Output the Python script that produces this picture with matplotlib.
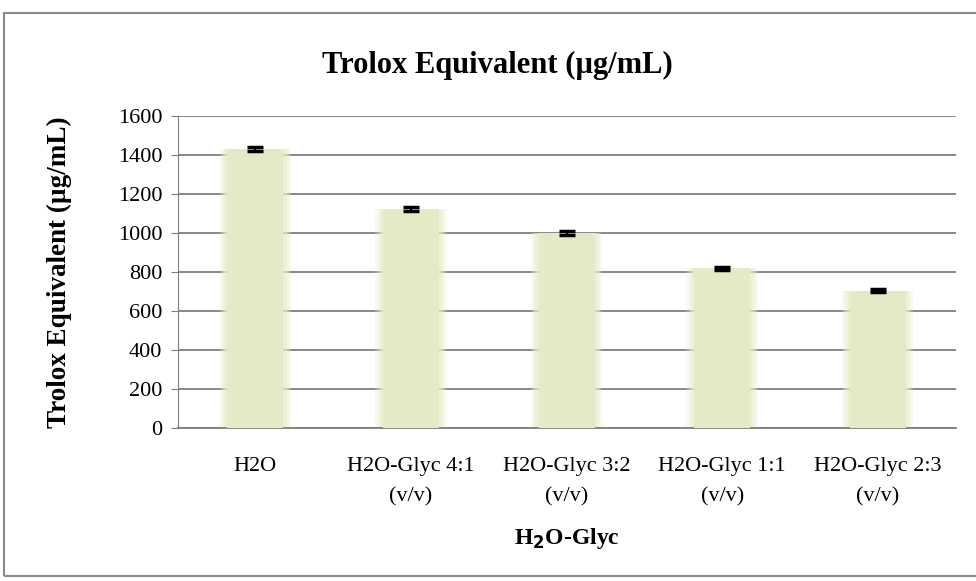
import matplotlib
matplotlib.use('Agg')
import matplotlib.pyplot as plt
import numpy as np
from matplotlib.patches import Rectangle

categories = ['H2O', 'H2O-Glyc 4:1\n(v/v)', 'H2O-Glyc 3:2\n(v/v)',
              'H2O-Glyc 1:1\n(v/v)', 'H2O-Glyc 2:3\n(v/v)']
values = [1430, 1122, 1002, 820, 706]
errors = [10, 10, 9, 9, 9]
yticks = [0, 200, 400, 600, 800, 1000, 1200, 1400, 1600]

plt.rcParams['font.family'] = 'Liberation Serif'

fig = plt.figure(figsize=(9.76, 5.81), dpi=100)
ax = fig.add_axes([0.182, 0.263, 0.797, 0.537])

# outer chart border
fig.patches.append(Rectangle((0.004, 0.008), 1.2, 0.97, transform=fig.transFigure,
                             fill=False, edgecolor='#8a8a8a', linewidth=1.5))

x = np.arange(len(categories))
# soft glow around bars
for w, a in [(0.46, 0.25), (0.43, 0.35), (0.40, 0.5)]:
    ax.bar(x, values, width=w, color='#e8ebca', alpha=a, linewidth=0, zorder=2)
ax.bar(x, values, width=0.36, color='#e6e9c6', linewidth=0, zorder=3)
ax.errorbar(x, values, yerr=errors, fmt='none', ecolor='black', elinewidth=1.5,
            capsize=6, capthick=2.5, zorder=4)

ax.set_xlim(-0.5, len(categories) - 0.5)
ax.set_ylim(0, 1600)
ax.set_yticks(yticks)
ax.yaxis.grid(True, color='#7f7f7f', linewidth=1.3, zorder=1)
ax.set_axisbelow(True)
for s in ['top', 'right']:
    ax.spines[s].set_visible(False)
ax.spines['left'].set_color('#7f7f7f')
ax.spines['bottom'].set_color('#7f7f7f')
ax.spines['bottom'].set_linewidth(1.3)
ax.tick_params(axis='y', labelsize=16, length=5, color='#7f7f7f', pad=6)
ax.tick_params(axis='x', length=0, labelsize=16, pad=21)
ax.set_xticks(x)
ax.set_xticklabels(categories, linespacing=1.75)

fig.text(0.51, 0.888, 'Trolox Equivalent (µg/mL)', fontsize=22, fontweight='bold',
         ha='center', va='center')
ax.set_ylabel('Trolox Equivalent (µg/mL)', fontsize=19.5, fontweight='bold')
ax.yaxis.set_label_coords(-0.182 + 0.038 / 0.797 * 0.976, 0.5)
ax.set_xlabel(r'H$_\mathbf{2}$O-Glyc', fontsize=17, fontweight='bold', labelpad=14)

fig.savefig('out.png', dpi=100)
